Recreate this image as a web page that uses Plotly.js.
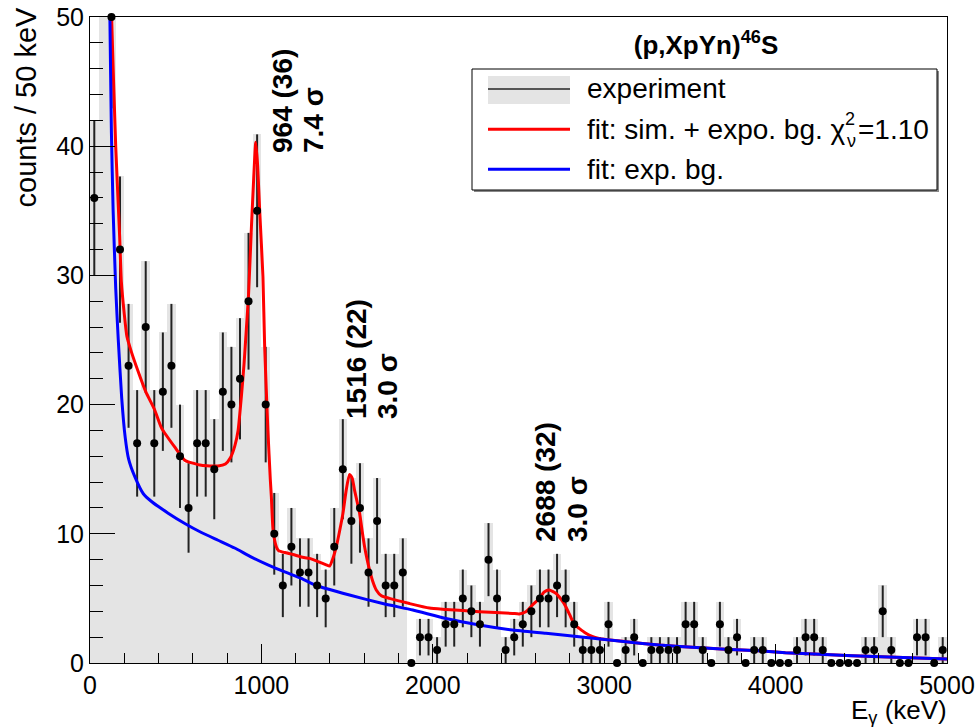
<!DOCTYPE html>
<html><head><meta charset="utf-8">
<script src="https://cdn.plot.ly/plotly-3.0.1.min.js"></script>
<style>html,body{margin:0;padding:0;background:#fff}</style>
</head><body><div id="chart" style="width:980px;height:727px"></div>
<script>
// counts per 50 keV bin, bins start at 0 keV
const counts = [36,60,50,32,23,17,26,17,21,23,
                16,12,17,17,15,21,20,22,28,35,
                20,10,6,9,7,7,6,5,9,15,
                11,12,7,11,6,6,7,0,2,2,
                1,3,3,5,4,3,8,5,1,2,
                3,4,5,5,6,5,3,1,1,1,
                3,0,1,2,0,1,1,1,1,3,
                3,1,0,3,1,2,0,1,1,0,
                0,0,1,2,2,1,0,0,0,0,
                1,1,4,1,0,0,2,2,0,1];
const binStart = 25, binWidth = 50;

// fit: sim. + expo. bg. (red)
const redE = [110,126,150,173,183,200,215,241,280,325,377,417,495,553,650,747,790,820,845,864,883,899,912,925,942,955,967,978,990,1009,1019,1038,1052,1058,1068,1087,1100,1136,1184,1233,1281,1330,1378,1398,1420,1437,1456,1476,1495,1514,1530,1543,1558,1573,1588,1602,1617,1631,1650,1670,1700,1747,1864,1980,2077,2271,2465,2504,2543,2582,2621,2650,2679,2718,2750,2776,2800,2825,2854,2893,2930,2970,3000,3126,3320,3514,3708,3902,4057,4446,5000];
const redC = [60,50,40,33,29.5,27,25.3,24.1,22.6,21.0,19.6,18.2,16.7,15.7,15.3,15.25,15.4,15.9,16.8,18,20.6,23.2,25.8,28.5,33.8,37.5,40.3,38.5,35,29.9,24.5,18,14.2,12.9,10.3,9.0,8.7,8.55,8.4,8.2,8.1,7.85,7.6,7.5,8.2,9.0,10.2,11.6,13.4,14.6,14.3,13.4,12.5,11.6,10.2,9.0,8.0,7.2,6.3,5.65,5.2,5.0,4.6,4.25,4.15,3.97,3.84,3.8,3.97,4.5,5.0,5.5,5.65,5.4,4.9,4.36,3.7,3.0,2.68,2.3,2.05,1.9,1.83,1.65,1.39,1.21,1.06,0.95,0.8,0.57,0.31];

// fit: exp. bg. (blue)
const blueE = [108,116,125,135,150,165,185,205,225,262,311,359,456,553,650,747,844,942,1038,1136,1233,1320,1514,1708,1883,2077,2271,2465,2660,2854,3126,3320,3514,3708,3902,4057,4446,5000];
const blueC = [58,50,41,35,29,25,20.5,17.5,15.8,14.4,13.1,12.5,11.6,10.8,10.1,9.5,8.9,8.2,7.6,7.05,6.55,6.0,5.26,4.6,4.1,3.45,2.94,2.55,2.3,2.04,1.65,1.39,1.21,1.06,0.95,0.8,0.57,0.31];

const peakEnergy = ['964 (36)', '1516 (22)', '2688 (32)'];
const peakSignif = ['7.4 σ', '3.0 σ', '3.0 σ'];
const xTitle = 'E<sub>γ</sub> (keV)';
const yTitle = 'counts / 50 keV';
const chartTitle = '<b>(p,XpYn)<sup>46</sup>S</b>';
const legendLabels = ['experiment', 'fit: sim. + expo. bg. χ', 'fit: exp. bg.'];

const FONT = 'Liberation Sans, Arial, sans-serif';
const YMAX = 50;
const errs = counts.map(v => Math.sqrt(v));
const grayTop = counts.map((v, i) => v + errs[i]);
const shown = counts.map(v => v <= YMAX ? v : null);

// pixel -> paper helpers (plot area 90..947 x 17..663)
const L = 90, R = 947, T = 17, B = 663;
const px = x => (x - L) / (R - L);
const py = y => (B - y) / (B - T);

const traces = [
  {type: 'bar', x0: binStart, dx: binWidth, y: grayTop, marker: {color: '#e4e4e4', line: {width: 0}},
   hoverinfo: 'skip', showlegend: false},
  {type: 'scatter', mode: 'markers', x0: binStart, dx: binWidth, y: counts,
   marker: {size: 1, color: 'rgba(0,0,0,0)'},
   error_y: {type: 'data', array: errs, visible: true, width: 0, thickness: 2, color: '#222222'},
   showlegend: false, cliponaxis: true},
  {type: 'scatter', mode: 'lines', x: redE, y: redC, line: {color: '#ff0000', width: 3, shape: 'spline', smoothing: 0.5}, showlegend: false},
  {type: 'scatter', mode: 'lines', x: blueE, y: blueC, line: {color: '#0000ff', width: 3, shape: 'spline', smoothing: 0.5}, showlegend: false},
  {type: 'scatter', mode: 'markers', x0: binStart, dx: binWidth, y: shown,
   marker: {size: 8, color: '#000000', symbol: 'circle'}, showlegend: false, cliponaxis: false}
];

const ann = [];
// peak labels: [line1 centre x, line2 centre x, bottom y] in pixels
const peakPos = [[282, 313, 155], [356, 387, 421], [545, 577, 544]];
peakEnergy.forEach((t, i) => {
  const p = peakPos[i];
  ann.push({xref: 'paper', yref: 'paper', x: px(p[0]), y: py(p[2]), xanchor: 'center', yanchor: 'bottom',
    text: '<b>' + t + '</b>', textangle: -90, showarrow: false, font: {family: FONT, size: 28, color: '#000'}});
  ann.push({xref: 'paper', yref: 'paper', x: px(p[1]), y: py(p[2]), xanchor: 'center', yanchor: 'bottom',
    text: '<b>' + peakSignif[i] + '</b>', textangle: -90, showarrow: false, font: {family: FONT, size: 28, color: '#000'}});
});
// axis titles
ann.push({xref: 'paper', yref: 'paper', x: px(25), y: py(5), xanchor: 'center', yanchor: 'top',
  text: yTitle, textangle: -90, showarrow: false, font: {family: FONT, size: 29, color: '#000'}});
ann.push({xref: 'paper', yref: 'paper', x: px(948), y: py(694), xanchor: 'right', yanchor: 'top', borderpad: 0,
  text: xTitle, showarrow: false, font: {family: FONT, size: 26, color: '#000'}});
// legend texts
const rowY = [89, 129.3, 169.3];
legendLabels.forEach((t, i) => {
  ann.push({xref: 'paper', yref: 'paper', x: px(585), y: py(rowY[i]), xanchor: 'left', yanchor: 'middle',
    text: t, showarrow: false, font: {family: FONT, size: 28, color: '#000'}});
});
ann.push({xref: 'paper', yref: 'paper', x: px(850), y: py(119), xanchor: 'center', yanchor: 'middle',
  text: '2', showarrow: false, font: {family: FONT, size: 18, color: '#000'}});
ann.push({xref: 'paper', yref: 'paper', x: px(851), y: py(141), xanchor: 'center', yanchor: 'middle',
  text: 'ν', showarrow: false, font: {family: FONT, size: 18, color: '#000'}});
ann.push({xref: 'paper', yref: 'paper', x: px(856), y: py(129.3), xanchor: 'left', yanchor: 'middle',
  text: '=1.10', showarrow: false, font: {family: FONT, size: 28, color: '#000'}});

const shapes = [
  {type: 'rect', xref: 'paper', yref: 'paper', x0: px(474), x1: px(939), y0: py(71), y1: py(192),
   line: {width: 0}, fillcolor: '#888888', layer: 'above'},
  {type: 'rect', xref: 'paper', yref: 'paper', x0: px(472), x1: px(937), y0: py(69), y1: py(190),
   line: {color: '#000', width: 1}, fillcolor: '#ffffff', layer: 'above'},
  {type: 'rect', xref: 'paper', yref: 'paper', x0: px(488), x1: px(570), y0: py(76), y1: py(104),
   line: {width: 0}, fillcolor: '#e4e4e4', layer: 'above'},
  {type: 'line', xref: 'paper', yref: 'paper', x0: px(488), x1: px(570), y0: py(89), y1: py(89),
   line: {color: '#555555', width: 2}, layer: 'above'},
  {type: 'line', xref: 'paper', yref: 'paper', x0: px(488), x1: px(570), y0: py(129.3), y1: py(129.3),
   line: {color: '#ff0000', width: 3}, layer: 'above'},
  {type: 'line', xref: 'paper', yref: 'paper', x0: px(488), x1: px(570), y0: py(169.3), y1: py(169.3),
   line: {color: '#0000ff', width: 3}, layer: 'above'}
];

const axisCommon = {showline: true, linecolor: '#000', linewidth: 1, mirror: true, ticks: 'inside',
  tickcolor: '#000', tickwidth: 1, showgrid: false, zeroline: false, fixedrange: true,
  tickfont: {family: FONT, size: 25, color: '#000'}};

const layout = {
  width: 980, height: 727,
  margin: {l: L, r: 980 - R, t: T, b: 727 - B, pad: 0},
  paper_bgcolor: '#fff', plot_bgcolor: '#fff',
  bargap: 0, showlegend: false,
  title: {text: chartTitle, x: 706 / 980, y: 1 - 45 / 727, xanchor: 'center', yanchor: 'middle',
    xref: 'container', yref: 'container', font: {family: FONT, size: 26, color: '#000'}},
  xaxis: Object.assign({}, axisCommon, {range: [0, 5000], tick0: 0, dtick: 1000, ticklen: 19,
    minor: {dtick: 200, tick0: 0, ticklen: 10, ticks: 'inside', tickcolor: '#000', tickwidth: 1, showgrid: false}}),
  yaxis: Object.assign({}, axisCommon, {range: [0, YMAX], tick0: 0, dtick: 10, ticklen: 25,
    minor: {dtick: 2, tick0: 0, ticklen: 13, ticks: 'inside', tickcolor: '#000', tickwidth: 1, showgrid: false}}),
  annotations: ann,
  shapes: shapes
};

Plotly.newPlot('chart', traces, layout, {displayModeBar: false, staticPlot: true});
</script>
</body></html>
